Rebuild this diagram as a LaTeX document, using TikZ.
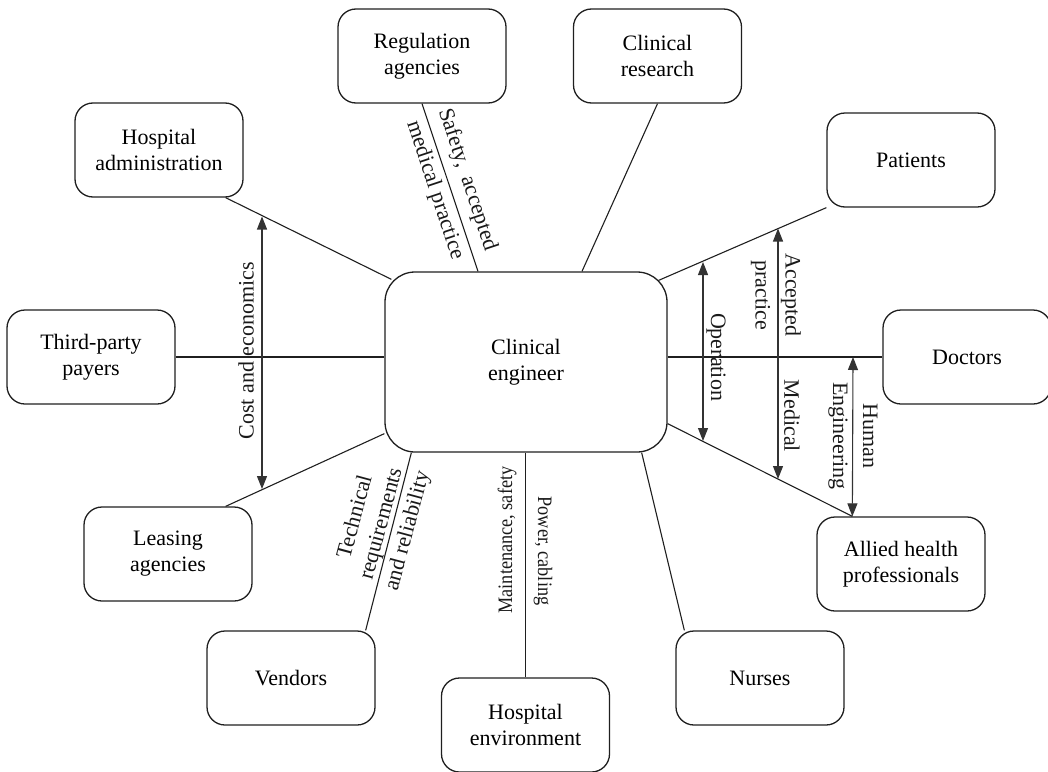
\documentclass[tikz,border=0pt]{standalone}
\usepackage{fontspec}
\setmainfont{Liberation Serif}
\newfontfamily\condserif[FakeStretch=0.89]{Liberation Serif}
\usetikzlibrary{arrows.meta}
\newcommand{\lblfont}{\fontsize{22}{26}\selectfont}
\begin{document}
\begin{tikzpicture}[x=1pt,y=-1pt,
  box/.style={draw=black!88, line width=1.3pt, rounded corners=18pt,
    minimum width=168pt, minimum height=94pt, align=center, inner sep=0pt, font=\lblfont},
  conn/.style={line width=1.1pt, draw=black!88},
  dbl/.style={line width=1.1pt, draw=black!80,
    {Triangle[width=10pt,length=13pt]}-{Triangle[width=10pt,length=13pt]}},
  lbl/.style={font=\lblfont, align=center, inner sep=0pt, text=black!90}]
\useasboundingbox (0,0) rectangle (1048,771);
\clip (0,0) rectangle (1048,771);

% central node
\node[box, minimum width=282pt, minimum height=180pt, rounded corners=30pt] (ce) at (526,362) {Clinical\\engineer};

% outer nodes
\node[box] (reg) at (422,56) {Regulation\\agencies};
\node[box] (res) at (657.5,56) {Clinical\\research};
\node[box] (hadm) at (159,150) {Hospital\\administration};
\node[box] (pat) at (911,160) {Patients};
\node[box] (tpp) at (91,357) {Third-party\\payers};
\node[box] (doc) at (967,357) {Doctors};
\node[box] (lea) at (168,554) {Leasing\\agencies};
\node[box] (all) at (901,564) {Allied health\\professionals};
\node[box] (ven) at (291,678) {Vendors};
\node[box] (env) at (525.5,725) {Hospital\\environment};
\node[box] (nur) at (760,678) {Nurses};

% connectors
\draw[conn] (reg.south) -- ([xshift=-48pt]ce.north);
\draw[conn] (res.south) -- ([xshift=56pt]ce.north);
\draw[conn] ([xshift=-18pt]hadm.south east) -- ([xshift=7pt,yshift=-8pt]ce.north west);
\draw[conn] (tpp.east) -- (tpp.east -| ce.west);
\draw[conn] ([xshift=-27pt]lea.north east) -- ([yshift=19pt]ce.south west);
\draw[conn] ([xshift=-10pt]ven.north east) -- ([xshift=27pt]ce.south west);
\draw[conn] (env.north) -- (env.north |- ce.south);
\draw[conn] ([xshift=9pt]nur.north west) -- ([xshift=-26pt]ce.south east);
\draw[conn] ([yshift=29pt]ce.south east) -- ([xshift=36pt]all.north west);
\draw[conn] (doc.west -| ce.east) -- (doc.west);
\draw[conn] ([xshift=-9pt,yshift=-9pt]ce.north east) -- (pat.south west);

% double arrows
\coordinate (c1) at (262,216.5);
\coordinate (c2) at (262,489);
\coordinate (o1) at (703,262);
\coordinate (o2) at (703,441);
\coordinate (m1) at (778,228.5);
\coordinate (m2) at (778,479);
\coordinate (h1) at (853,357);
\draw[dbl] (c1) -- (c2);
\draw[dbl] (o1) -- (o2);
\draw[dbl] (m1) -- (m2);
\draw[dbl] (h1) -- ([xshift=36pt]all.north west);

% labels
\node[lbl, rotate=-71.7, font=\fontsize{22}{34}\selectfont] (lsafety) at (451,185) {Safety,\ \ accepted\\medical practice};
\node[lbl, rotate=75, font=\fontsize{22}{27}\selectfont] (ltech) at (382,524) {Technical\\requirements\\and reliability};
\node[lbl, rotate=90, font=\condserif\fontsize{20.5}{24}\selectfont] (lmaint) at (507,540) {Maintenance, safety};
\node[lbl, rotate=-90, font=\condserif\fontsize{20.5}{24}\selectfont] (lpower) at (543,551) {Power, cabling};
\node[lbl, rotate=90] (lcost) at (246,351) {Cost and economics};
\node[lbl, rotate=-90] (loper) at (716,357) {Operation};
\node[lbl, rotate=-90, font=\fontsize{22}{30}\selectfont] (lacc) at (776,295) {Accepted\\practice};
\node[lbl, rotate=-90] (lmed) at (792,416) {Medical};
\node[lbl, rotate=-90, font=\fontsize{22}{30}\selectfont] (lhum) at (853,436) {Human\\Engineering};
\end{tikzpicture}
\end{document}
